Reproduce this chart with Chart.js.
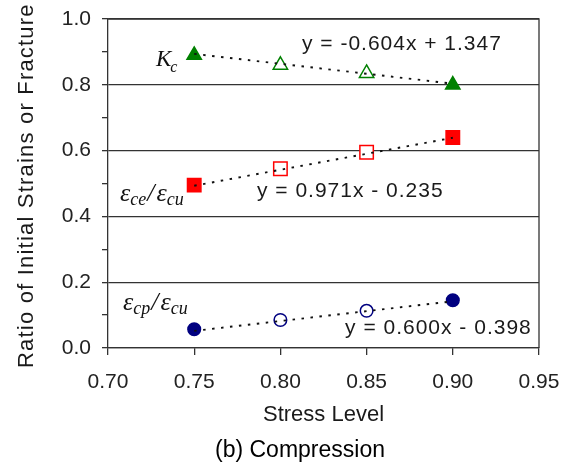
<!DOCTYPE html>
<html>
<head>
<meta charset="utf-8">
<script src="https://cdn.jsdelivr.net/npm/chart.js@4.4.1/dist/chart.umd.min.js"></script>
<style>
  html, body { margin: 0; padding: 0; background: #ffffff; }
  canvas { display: block; }
</style>
</head>
<body>
<canvas id="chart" width="565" height="463"></canvas>
<script>
// Stress levels tested
const stressLevels = [0.75, 0.80, 0.85, 0.90];
// Ratios measured at each stress level
const kcValues  = [0.89, 0.86, 0.835, 0.80];
const eceRatio  = [0.495, 0.545, 0.595, 0.64];
const ecpRatio  = [0.057, 0.085, 0.113, 0.145];
// Middle points are drawn hollow
const hollowPoints = [false, true, true, false];
// Linear trend fits (Kc, ece/ecu, ecp/ecu)
const trendSlopes     = [-0.604, 0.971, 0.600];
const trendIntercepts = [1.347, -0.235, -0.398];
// Axis ticks
const xTicks = [0.70, 0.75, 0.80, 0.85, 0.90, 0.95];
const yTicks = [0.0, 0.2, 0.4, 0.6, 0.8, 1.0];

const GREEN = '#008000';
const RED = '#ff0000';
const NAVY = '#000080';
const AXIS = '#333333';

function points(ys) {
  return stressLevels.map((x, i) => ({ x: x, y: ys[i] }));
}
function trend(k) {
  const x0 = stressLevels[0], x1 = stressLevels[stressLevels.length - 1];
  return [
    { x: x0, y: trendSlopes[k] * x0 + trendIntercepts[k] },
    { x: x1, y: trendSlopes[k] * x1 + trendIntercepts[k] }
  ];
}
function equation(k) {
  const m = trendSlopes[k], b = trendIntercepts[k];
  return 'y = ' + m.toFixed(3) + 'x ' + (b < 0 ? '-' : '+') + ' ' + Math.abs(b).toFixed(3);
}
function trendSet(k) {
  return {
    data: trend(k), showLine: true, pointRadius: 0, borderColor: '#111111',
    borderWidth: 1.9, borderDash: [2.5, 6.5], order: 0
  };
}
function markerSet(ys, color, style, radius) {
  return {
    data: points(ys), showLine: false, pointStyle: style, pointRadius: radius,
    pointHoverRadius: radius, borderColor: color, pointBorderColor: color,
    pointBorderWidth: 1.5,
    pointBackgroundColor: (c) => hollowPoints[c.dataIndex] ? '#ffffff' : color,
    order: 1
  };
}

// Frame: top and right border of the plot box
const frame = {
  id: 'frame',
  beforeDatasetsDraw(chart) {
    const a = chart.chartArea, ctx = chart.ctx;
    ctx.save();
    ctx.strokeStyle = AXIS;
    ctx.lineWidth = 1.3;
    ctx.beginPath();
    ctx.moveTo(a.left, a.top);
    ctx.lineTo(a.right, a.top);
    ctx.lineTo(a.right, a.bottom);
    ctx.stroke();
    ctx.restore();
  }
};

// Titles, caption, series names and trend equations
const labels = {
  id: 'labels',
  afterDraw(chart) {
    const ctx = chart.ctx;
    const xs = chart.scales.x, ys = chart.scales.y;
    const px = (v) => xs.getPixelForValue(v);
    const py = (v) => ys.getPixelForValue(v);
    ctx.save();
    ctx.fillStyle = '#1a1a1a';
    ctx.textBaseline = 'alphabetic';

    // axis titles
    ctx.font = '22px "Liberation Sans", Arial, sans-serif';
    ctx.letterSpacing = '1.2px';
    ctx.save();
    ctx.translate(33, 368);
    ctx.rotate(-Math.PI / 2);
    ctx.textAlign = 'left';
    ctx.fillText('Ratio of Initial Strains or Fracture', 0, 0);
    ctx.restore();

    ctx.letterSpacing = '0px';
    ctx.textAlign = 'center';
    ctx.fillText('Stress Level', (chart.chartArea.left + chart.chartArea.right) / 2, 421);
    ctx.font = '23px "Liberation Sans", Arial, sans-serif';
    ctx.fillStyle = '#000000';
    ctx.fillText('(b) Compression', 300, 457);

    // trend equations
    ctx.fillStyle = '#1a1a1a';
    ctx.font = '21px "Liberation Sans", Arial, sans-serif';
    ctx.letterSpacing = '1px';
    ctx.textAlign = 'left';
    ctx.fillText(equation(0), px(0.8125), py(0.907));
    ctx.fillText(equation(1), px(0.7864), py(0.458));
    ctx.fillText(equation(2), px(0.8375), py(0.042));
    ctx.letterSpacing = '0px';

    // series names in italic serif with subscripts
    const big = 'italic 26px "Liberation Serif", "Times New Roman", serif';
    const sub = 'italic 18px "Liberation Serif", "Times New Roman", serif';
    function ratioLabel(x, y, s1, s2) {
      let cx = x;
      ctx.font = big; ctx.fillText('\u03b5', cx, y); cx += ctx.measureText('\u03b5').width;
      ctx.font = sub; ctx.fillText(s1, cx, y + 4); cx += ctx.measureText(s1).width + 1;
      ctx.font = big; ctx.fillText('/', cx, y); cx += ctx.measureText('/').width + 2;
      ctx.fillText('\u03b5', cx, y); cx += ctx.measureText('\u03b5').width;
      ctx.font = sub; ctx.fillText(s2, cx, y + 4);
    }
    ctx.fillStyle = '#111111';
    ctx.font = 'italic 23px "Liberation Serif", "Times New Roman", serif';
    ctx.fillText('K', 156, 66);
    const kw = ctx.measureText('K').width;
    ctx.font = 'italic 16px "Liberation Serif", "Times New Roman", serif';
    ctx.fillText('c', 156 + kw - 1, 72);

    ratioLabel(120, 201, 'ce', 'cu');
    ratioLabel(123, 310, 'cp', 'cu');
    ctx.restore();
  }
};

new Chart(document.getElementById('chart'), {
  type: 'scatter',
  data: {
    datasets: [
      trendSet(0), trendSet(1), trendSet(2),
      markerSet(kcValues, GREEN, 'triangle', 8.3),
      markerSet(eceRatio, RED, 'rect', 9.5),
      markerSet(ecpRatio, NAVY, 'circle', 6.3)
    ]
  },
  options: {
    responsive: false,
    animation: false,
    events: [],
    layout: { padding: { top: 19, right: 26, left: 0, bottom: 0 } },
    plugins: { legend: { display: false }, tooltip: { enabled: false } },
    scales: {
      x: {
        type: 'linear', min: xTicks[0], max: xTicks[xTicks.length - 1],
        afterBuildTicks: (s) => { s.ticks = xTicks.map((v) => ({ value: v })); },
        afterFit: (s) => { s.height = 115; s.paddingLeft = 0; s.paddingRight = 0; },
        ticks: {
          callback: (v) => v.toFixed(2), color: '#222222', padding: 15,
          autoSkip: false, maxRotation: 0,
          font: { family: '"Liberation Sans", Arial, sans-serif', size: 21 }
        },
        grid: { drawOnChartArea: false, tickLength: 7, color: AXIS, tickColor: AXIS, lineWidth: 1.3 },
        border: { color: AXIS, width: 1.3 }
      },
      y: {
        type: 'linear', min: 0, max: 1.0,
        afterBuildTicks: (s) => {
          const t = [];
          for (let i = 0; i <= 10; i++) t.push({ value: i / 10 });
          s.ticks = t;
        },
        afterFit: (s) => { s.width = 108; s.paddingTop = 0; s.paddingBottom = 0; },
        ticks: {
          callback: (v) => {
            const hit = yTicks.find((t) => Math.abs(t - v) < 1e-6);
            return hit === undefined ? '' : hit.toFixed(1);
          },
          color: '#222222', padding: 11, autoSkip: false,
          font: { family: '"Liberation Sans", Arial, sans-serif', size: 21 }
        },
        grid: {
          tickLength: 6, lineWidth: 1.3, tickColor: AXIS,
          color: (c) => yTicks.some((t) => Math.abs(t - c.tick.value) < 1e-6) ? AXIS : 'rgba(0,0,0,0)'
        },
        border: { color: AXIS, width: 1.3 }
      }
    }
  },
  plugins: [frame, labels]
});
</script>
</body>
</html>
